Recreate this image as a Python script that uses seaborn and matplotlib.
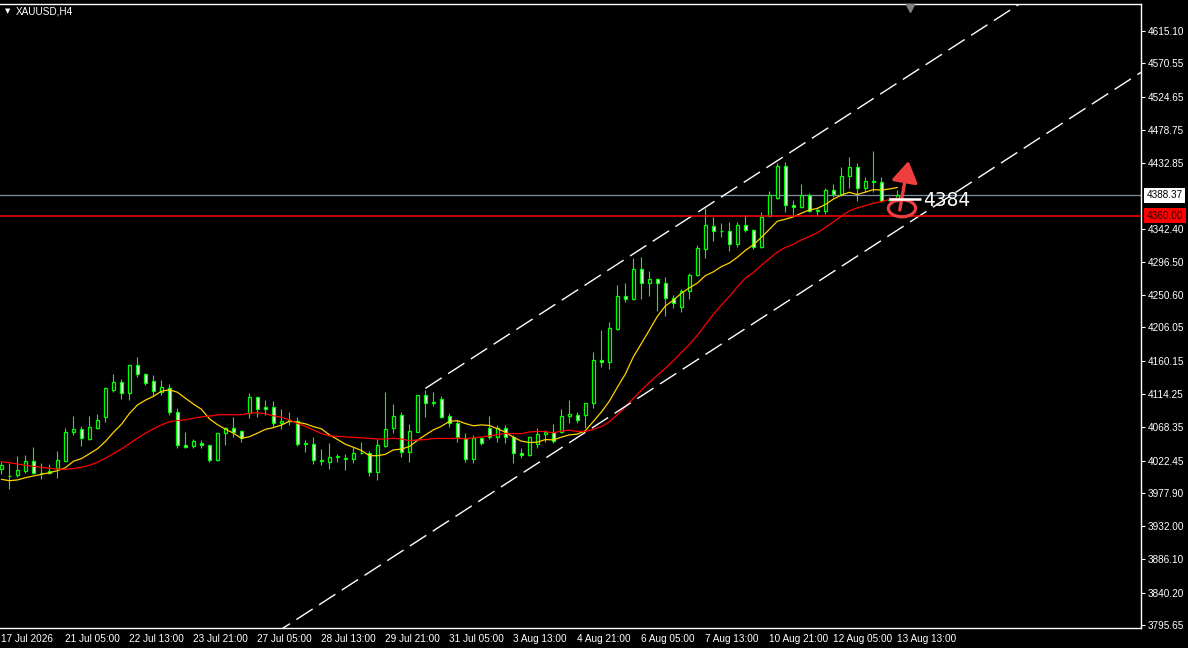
import numpy as np
import pandas as pd
import matplotlib
matplotlib.use("Agg")
import matplotlib.pyplot as plt
import matplotlib.transforms as mtransforms
from matplotlib.patches import Ellipse
import seaborn as sns

# XAUUSD H4 - candles
opens = [4010.4, 4000.8, 4002.2, 4007.7, 4021.5, 4004.9, 4007.7, 4012.6, 4022.3, 4061.5,
         4065.6, 4052.6, 4067.8, 4082.2, 4120.2, 4130.5, 4115.3, 4153.9, 4141.5, 4132.7,
         4117.1, 4122.6, 4089.1, 4043.5, 4042.2, 4046.7, 4043.5, 4022.8, 4060.1, 4067.3,
         4062.9, 4087.7, 4109.9, 4096.0, 4096.0, 4073.9, 4077.5, 4077.5, 4045.7, 4045.3,
         4021.5, 4020.9, 4027.0, 4024.2, 4025.1, 4032.5, 4032.5, 4006.3, 4043.0, 4067.8,
         4084.9, 4033.9, 4062.3, 4112.5, 4102.3, 4107.4, 4083.5, 4073.9, 4054.0, 4024.2,
         4053.2, 4067.8, 4055.4, 4067.8, 4054.6, 4032.5, 4029.7, 4044.9, 4058.7, 4061.5,
         4061.5, 4084.0, 4084.9, 4084.9, 4101.5, 4161.2, 4158.0, 4204.0, 4249.1, 4244.8,
         4286.3, 4267.0, 4272.6, 4267.0, 4246.2, 4234.8, 4256.4, 4278.1, 4314.8, 4346.5,
         4339.6, 4338.8, 4321.7, 4347.1, 4340.2, 4316.7, 4359.9, 4384.3, 4428.9, 4374.6,
         4371.9, 4388.4, 4367.2, 4367.2, 4395.3, 4389.8, 4414.7, 4427.1, 4398.1, 4407.8,
         4407.2, 4381.3, 4383.3]
highs = [4021.9, 4019.5, 4028.8, 4029.7, 4041.2, 4019.1, 4017.7, 4035.7, 4067.4, 4084.0,
         4070.2, 4084.0, 4086.7, 4124.0, 4141.9, 4134.6, 4155.3, 4164.9, 4143.3, 4140.1,
         4133.2, 4127.7, 4094.6, 4061.9, 4051.8, 4050.4, 4044.4, 4060.5, 4068.4, 4082.6,
         4064.6, 4115.7, 4110.2, 4106.0, 4104.2, 4093.2, 4089.5, 4082.2, 4050.9, 4055.0,
         4038.4, 4046.7, 4031.5, 4032.0, 4040.8, 4048.1, 4035.7, 4052.2, 4117.1, 4100.5,
         4089.9, 4072.9, 4113.3, 4119.8, 4116.7, 4111.6, 4088.1, 4078.4, 4060.1, 4057.7,
         4055.4, 4084.0, 4071.1, 4071.1, 4057.7, 4040.2, 4056.4, 4067.3, 4064.6, 4073.3,
         4094.0, 4106.0, 4089.1, 4101.9, 4172.3, 4202.2, 4213.6, 4264.3, 4267.0, 4301.5,
         4302.9, 4283.6, 4274.8, 4275.3, 4250.9, 4258.8, 4280.8, 4319.9, 4370.5, 4358.9,
         4349.8, 4351.6, 4352.0, 4360.8, 4342.4, 4365.4, 4394.0, 4433.4, 4434.4, 4382.0,
         4404.0, 4391.2, 4372.7, 4398.1, 4403.6, 4427.1, 4440.9, 4432.6, 4414.1, 4450.0,
         4413.3, 4386.1, 4395.8]
lows = [4003.9, 3982.8, 4000.2, 4005.7, 4003.9, 3997.5, 4003.5, 3998.8, 4021.9, 4058.2,
        4042.6, 4050.9, 4066.4, 4076.1, 4117.1, 4107.8, 4106.0, 4137.4, 4127.1, 4111.6,
        4112.5, 4085.8, 4039.4, 4039.8, 4040.2, 4039.4, 4020.9, 4022.3, 4044.4, 4055.4,
        4048.5, 4081.6, 4083.0, 4085.3, 4069.2, 4065.6, 4071.5, 4042.2, 4034.7, 4018.2,
        4016.4, 4011.3, 4020.5, 4009.9, 4019.1, 4031.1, 4001.2, 3995.3, 4041.6, 4060.1,
        4027.8, 4020.1, 4061.5, 4082.2, 4097.8, 4081.2, 4069.2, 4048.5, 4020.9, 4019.5,
        4044.0, 4052.6, 4048.5, 4046.3, 4018.7, 4025.6, 4028.4, 4040.2, 4048.5, 4046.3,
        4060.1, 4073.9, 4073.9, 4067.3, 4094.6, 4152.0, 4149.2, 4202.6, 4241.6, 4244.0,
        4245.4, 4249.1, 4228.8, 4222.3, 4232.5, 4227.9, 4245.4, 4277.1, 4301.5, 4325.8,
        4330.5, 4311.6, 4316.7, 4338.2, 4314.4, 4315.3, 4359.5, 4383.3, 4365.8, 4361.3,
        4370.5, 4365.8, 4360.3, 4362.6, 4386.5, 4387.9, 4398.9, 4381.0, 4393.0, 4393.4,
        4379.6, 4379.9, 4379.6]
closes = [4016.4, 4001.6, 4009.5, 4021.5, 4004.9, 4005.3, 4004.9, 4022.8, 4061.9, 4065.6,
          4053.2, 4068.4, 4078.0, 4122.2, 4130.5, 4115.3, 4154.3, 4141.5, 4129.1, 4118.0,
          4123.6, 4089.5, 4043.5, 4040.8, 4049.5, 4043.5, 4022.8, 4060.1, 4067.3, 4062.3,
          4053.2, 4109.9, 4093.2, 4093.2, 4073.9, 4077.5, 4078.0, 4044.9, 4046.3, 4022.8,
          4023.7, 4027.0, 4029.2, 4026.4, 4032.9, 4033.3, 4006.3, 4043.5, 4065.6, 4084.0,
          4034.3, 4062.9, 4112.5, 4102.3, 4102.9, 4083.0, 4073.9, 4054.6, 4025.1, 4053.2,
          4046.3, 4055.4, 4067.8, 4054.6, 4032.5, 4029.7, 4054.6, 4058.7, 4061.5, 4049.1,
          4084.0, 4086.7, 4078.0, 4101.5, 4161.2, 4158.5, 4205.0, 4249.1, 4244.8, 4286.3,
          4267.0, 4272.6, 4267.0, 4246.2, 4239.4, 4256.4, 4278.1, 4315.3, 4347.5, 4338.8,
          4339.2, 4321.7, 4347.1, 4340.2, 4316.7, 4358.9, 4388.4, 4428.9, 4374.6, 4371.9,
          4388.4, 4367.2, 4367.7, 4395.3, 4389.8, 4414.7, 4427.1, 4398.1, 4407.8, 4407.2,
          4381.0, 4382.8, 4388.37]

# moving averages before enough history is on screen
ma_fast_head = [3996.6, 3994.7, 3995.7, 3998.8, 4001.2, 4003.5, 4005.7, 4008.5, 4012.6]
ma_slow_head = [4020.9, 4019.5, 4017.7, 4015.9, 4014.6, 4013.2, 4011.8, 4010.8, 4010.4, 4011.3,
                4013.2, 4015.9, 4020.1, 4025.6, 4032.0, 4038.4, 4045.7, 4053.2, 4060.1]

time_ticks = [0, 8, 16, 24, 32, 40, 48, 56, 64, 72, 80, 88, 96, 104, 112]
time_labels = ["17 Jul 2026", "21 Jul 05:00", "22 Jul 13:00", "23 Jul 21:00", "27 Jul 05:00",
               "28 Jul 13:00", "29 Jul 21:00", "31 Jul 05:00", "3 Aug 13:00", "4 Aug 21:00",
               "6 Aug 05:00", "7 Aug 13:00", "10 Aug 21:00", "12 Aug 05:00", "13 Aug 13:00"]
price_ticks = [4615.10, 4570.55, 4524.65, 4478.75, 4432.85, 4342.40, 4296.50, 4250.60,
               4206.05, 4160.15, 4114.25, 4068.35, 4022.45, 3977.90, 3932.00, 3886.10,
               3840.20, 3795.65]

bid = 4388.37
level = 4360.00
target = 4384

# channel lines (bar index, price)
chan_x = [53, 150]
chan_upper = [4122.0, 4814.6]
chan_lower_x = [30, 150]
chan_lower = [3754.0, 4612.0]

df = pd.DataFrame({"bar": np.arange(len(closes)), "open": opens, "high": highs,
                   "low": lows, "close": closes})
df["ma_fast"] = df["close"].rolling(10).mean()
df.loc[:8, "ma_fast"] = ma_fast_head
df["ma_slow"] = df["close"].rolling(20).mean()
df.loc[:18, "ma_slow"] = ma_slow_head

sns.set_style("dark", {"axes.facecolor": "black", "figure.facecolor": "black"})
plt.rcParams["font.family"] = ["Liberation Sans", "DejaVu Sans"]

W, H = 1188, 648
fig = plt.figure(figsize=(W / 100, H / 100), dpi=100)
ax = fig.add_axes([0, 20 / H, 1141 / W, 624 / H])
ax.set_facecolor("black")

green = "#00ff00"
bull = df["close"] >= df["open"]
ax.vlines(df["bar"], df["low"], df["high"], color=green, lw=0.8, zorder=2)
ax.bar(df["bar"], (df["close"] - df["open"]).abs(), bottom=df[["open", "close"]].min(axis=1),
       width=0.45, color=np.where(bull, "black", "white"), edgecolor=green, linewidth=0.9,
       zorder=3)

sns.lineplot(data=df, x="bar", y="ma_fast", color="#ffd200", lw=0.9, ax=ax, zorder=4)
sns.lineplot(data=df, x="bar", y="ma_slow", color="#ff0000", lw=0.9, ax=ax, zorder=4)

# channel
ax.plot(chan_x, chan_upper, color="white", lw=1, dashes=(14, 5.5), zorder=5)
ax.plot(chan_lower_x, chan_lower, color="white", lw=1, dashes=(14, 5.5), zorder=5)

ax.axhline(bid, color="#7f8fa0", lw=0.9, zorder=1)
ax.axhline(level, color="#ff0000", lw=1.1, zorder=5)

# hand drawn markup
red_mark = "#ee3e3e"
ax.add_patch(Ellipse((112.58, 4370.5), width=3.4, height=23.5, fill=False,
                     ec=red_mark, lw=2.3, zorder=7))
ax.annotate("", xy=(113.4, 4435.8), xytext=(112.3, 4368.2),
            arrowprops=dict(arrowstyle="-|>,head_length=0.4,head_width=0.25",
                            mutation_scale=32, lw=2.4, color=red_mark,
                            shrinkA=0, shrinkB=0), zorder=7)
ax.plot([110.9, 115.0], [target, target], color="white", lw=1.8, zorder=7,
        solid_capstyle="butt")
ax.text(115.2, 4373.7, str(target), color="white", fontsize=13.4,
        family="DejaVu Sans", ha="left", va="baseline", zorder=8)

ax.set_xlim(-0.17, 142.46)
ax.set_ylim(3791.48, 4652.35)

ax.set_xticks(time_ticks)
ax.set_xticklabels(time_labels, ha="left")
ax.yaxis.tick_right()
ax.set_yticks(price_ticks)
ax.set_yticklabels([f"{v:.2f}" for v in price_ticks])
ax.tick_params(axis="both", colors="white", labelcolor="white", labelsize=7.2,
               direction="out", length=3, width=0.8, pad=2)
ax.tick_params(axis="x", pad=1.5)
ax.set_xlabel("")
ax.set_ylabel("")
ax.grid(False)
for side in ["top", "right", "bottom"]:
    ax.spines[side].set_visible(True)
    ax.spines[side].set_color("white")
    ax.spines[side].set_linewidth(1)
ax.spines["left"].set_visible(False)

# price labels on the axis
trans = mtransforms.blended_transform_factory(ax.transAxes, ax.transData)
ax.text(1.0 + 5.5 / 1141, bid, f"{bid:.2f}", transform=trans, ha="left", va="center",
        fontsize=7.2, color="black", clip_on=False, zorder=10,
        bbox=dict(boxstyle="square,pad=0.25", fc="white", ec="none"))
ax.text(1.0 + 5.5 / 1141, level, f"{level:.2f}", transform=trans, ha="left", va="center",
        fontsize=7.2, color="#300000", clip_on=False, zorder=10,
        bbox=dict(boxstyle="square,pad=0.25", fc="#ff0000", ec="none"))

# chart shift marker
shift_tr = mtransforms.blended_transform_factory(ax.transData, ax.transAxes)
ax.plot([113.6], [0.994], marker="v", ms=6, color="#808080", transform=shift_tr,
        clip_on=False, zorder=10)

fig.text(5 / W, 1 - 11.5 / H, "\u25bc", color="white", fontsize=5, family="DejaVu Sans",
         va="center")
fig.text(16 / W, 1 - 11.5 / H, "XAUUSD,H4", color="white", fontsize=7.2, va="center")

fig.savefig("out.png", dpi=100, facecolor="black")
